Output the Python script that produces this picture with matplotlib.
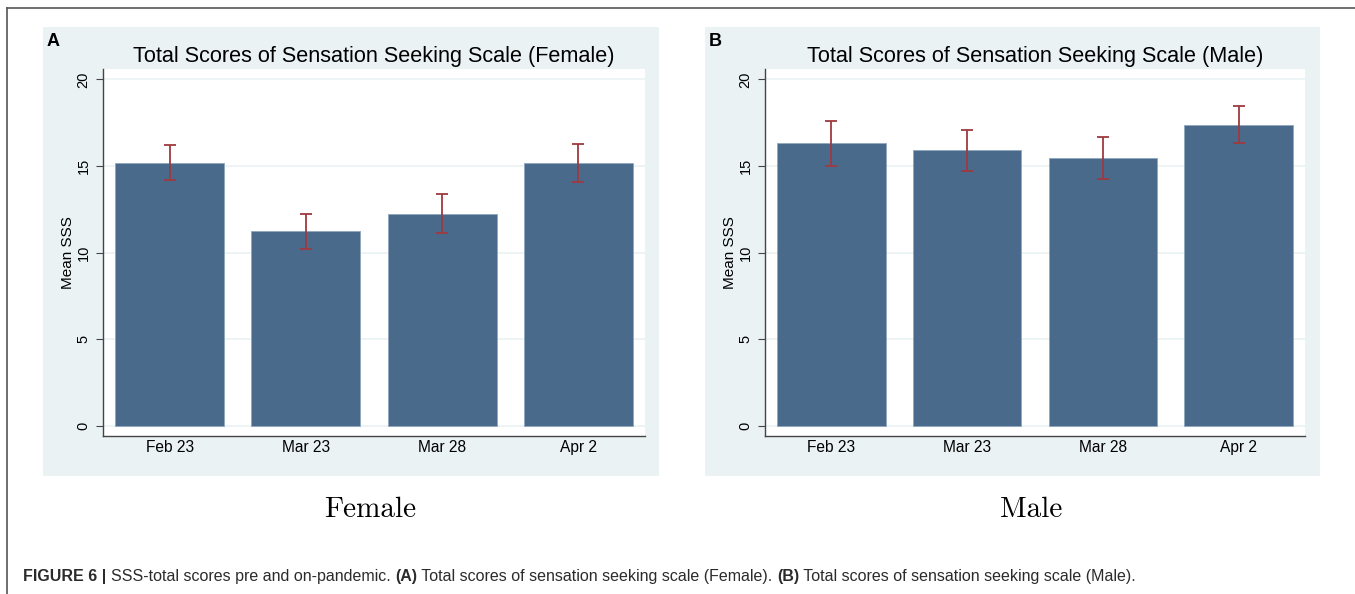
import matplotlib
matplotlib.use("Agg")
import matplotlib.pyplot as plt
from matplotlib.patches import Rectangle
from matplotlib.lines import Line2D
import numpy as np

dates = ["Feb 23", "Mar 23", "Mar 28", "Apr 2"]

female_mean = [15.19, 11.25, 12.25, 15.16]
female_lo = [14.17, 10.23, 11.11, 14.08]
female_hi = [16.19, 12.23, 13.40, 16.25]

male_mean = [16.32, 15.90, 15.46, 17.39]
male_lo = [15.00, 14.73, 14.27, 16.32]
male_hi = [17.61, 17.09, 16.65, 18.49]

yticks = [0, 5, 10, 15, 20]

bar_color = "#496a8b"
err_color = "#9e3a40"
bg_color = "#eaf2f3"
sans = "Liberation Sans"

W, H = 1355, 594
fig = plt.figure(figsize=(W / 100, H / 100), dpi=100)
fig.patch.set_facecolor("white")

# frame lines (top and left)
fig.add_artist(Line2D([7 / W, 1], [1 - 8 / H, 1 - 8 / H], color="#555555", lw=1.2))
fig.add_artist(Line2D([7 / W, 7 / W], [0, 1 - 8 / H], color="#555555", lw=1.2))


def panel(bg_x0, bg_x1, ax_x0, ax_x1, letter, title, means, lo, hi, bottom_label):
    fig.add_artist(Rectangle((bg_x0 / W, 1 - 476 / H), (bg_x1 - bg_x0) / W, (476 - 27) / H,
                             transform=fig.transFigure, facecolor=bg_color, edgecolor="none", zorder=0))
    ax = fig.add_axes([ax_x0 / W, 1 - 436 / H, (ax_x1 - ax_x0) / W, (436 - 69) / H])
    ax.set_facecolor("white")
    x = np.arange(len(dates))
    ax.bar(x, means, width=0.8, color=bar_color, edgecolor="#8fa6bd", linewidth=0.6, zorder=3)
    means = np.array(means)
    yerr = [means - np.array(lo), np.array(hi) - means]
    ax.errorbar(x, means, yerr=yerr, fmt="none", ecolor=err_color, elinewidth=1.3,
                capsize=4, capthick=1.3, zorder=4)
    ax.set_xlim(-0.49, 3.49)
    ax.set_ylim(-0.58, 20.6)
    ax.set_yticks(yticks)
    ax.set_yticklabels([str(t) for t in yticks], rotation=90, va="center",
                       fontsize=10.5, family=sans)
    ax.set_xticks(x)
    ax.set_xticklabels(dates, fontsize=11.2, family=sans)
    ax.tick_params(axis="x", length=0, pad=3)
    ax.tick_params(axis="y", length=5, width=0.8, color="#444444", pad=4)
    ax.grid(axis="y", color=bg_color, lw=1.2, zorder=0)
    ax.set_axisbelow(True)
    for s in ["top", "right"]:
        ax.spines[s].set_visible(False)
    for s in ["left", "bottom"]:
        ax.spines[s].set_color("#444444")
        ax.spines[s].set_linewidth(1.0)
    ax.set_ylabel("Mean SSS", fontsize=11, family=sans, labelpad=1)
    ax.set_title(title, fontsize=15.6, family=sans, pad=5)
    fig.text((bg_x0 + 4) / W, 1 - 41 / H, letter, fontsize=13, fontweight="bold",
             family=sans, va="center", ha="left")
    fig.text(((bg_x0 + bg_x1) / 2 + 19) / W, 1 - 510 / H, bottom_label, fontsize=21,
             family="cmr10", ha="center", va="center")
    return ax


panel(43, 659, 103, 645, "A", "Total Scores of Sensation Seeking Scale (Female)",
      female_mean, female_lo, female_hi, "Female")
panel(705, 1320, 765, 1305, "B", "Total Scores of Sensation Seeking Scale (Male)",
      male_mean, male_lo, male_hi, "Male")

# caption with bold parts
parts = [
    ("FIGURE 6 | ", "bold"),
    ("SSS-total scores pre and on-pandemic. ", "normal"),
    ("(A)", "bold"),
    (" Total scores of sensation seeking scale (Female). ", "normal"),
    ("(B)", "bold"),
    (" Total scores of sensation seeking scale (Male).", "normal"),
]
fig.canvas.draw()
renderer = fig.canvas.get_renderer()
xpos = 23 / W
for txt, wt in parts:
    t = fig.text(xpos, 1 - 577 / H, txt, fontsize=11.5, fontweight=wt, family=sans,
                 color="#2b2b2b", va="center", ha="left")
    bb = t.get_window_extent(renderer=renderer)
    xpos += bb.width / W

fig.savefig("out.png", dpi=100, facecolor="white")
